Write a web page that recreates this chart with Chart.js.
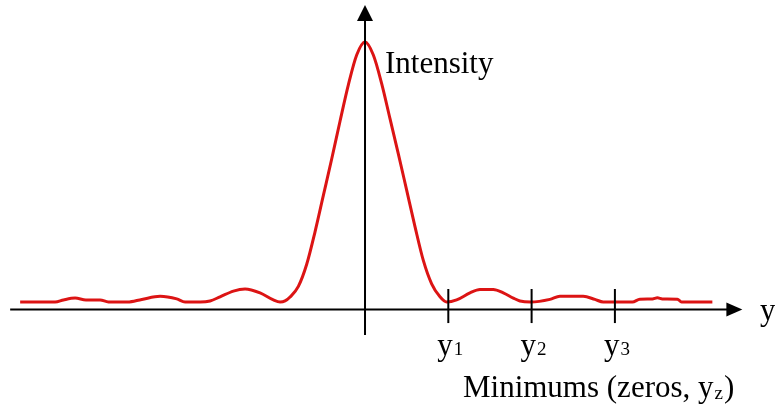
<!DOCTYPE html>
<html><head><meta charset="utf-8">
<script src="https://cdn.jsdelivr.net/npm/chart.js@4/dist/chart.umd.min.js"></script>
<style>html,body{margin:0;padding:0;background:#fff;overflow:hidden}#wrap{width:775px;height:404px}</style>
</head><body><div id="wrap"><canvas id="c" width="775" height="404"></canvas></div>
<script>
// Position along the screen, in units of the first-zero distance
const positions = [-4.14,-3.72,-3.62,-3.48,-3.35,-3.18,-3.08,-2.85,-2.68,-2.46,-2.26,-2.16,-1.98,-1.86,-1.74,-1.58,-1.44,-1.26,-1.10,-1.02,-0.96,-0.90,-0.80,-0.70,-0.60,-0.50,-0.40,-0.30,-0.20,-0.10,0.00,0.10,0.20,0.30,0.40,0.50,0.60,0.70,0.80,0.90,0.98,1.10,1.26,1.38,1.54,1.66,1.78,1.86,1.99,2.22,2.34,2.62,2.76,2.86,3.21,3.30,3.45,3.51,3.57,3.75,3.80,4.17];
// Relative intensity (peak = 1)
const intensity = [0.000,0.000,0.008,0.015,0.008,0.008,0.000,0.000,0.010,0.022,0.012,0.000,0.000,0.004,0.020,0.042,0.050,0.035,0.008,0.000,0.004,0.019,0.060,0.145,0.270,0.410,0.550,0.695,0.835,0.950,1.000,0.950,0.840,0.705,0.570,0.430,0.290,0.160,0.070,0.020,0.000,0.008,0.035,0.048,0.048,0.035,0.015,0.004,0.000,0.010,0.022,0.022,0.010,0.000,0.000,0.011,0.012,0.016,0.012,0.011,0.000,0.000];
// Marked minima (zeros) on the axis
const zeroPositions = [1, 2, 3];
const zeroLabels = ['1', '2', '3'];
const yLabel = 'Intensity';
const xLabel = 'y';
const minimaCaption = 'Minimums (zeros, y';
const minimaSub = 'z';

const FONT = '"Liberation Serif", "Times New Roman", serif';

const axesPlugin = {
  id: 'axesPlugin',
  afterDatasetsDraw(chart) {
    const ctx = chart.ctx;
    const xs = chart.scales.x, ys = chart.scales.y;
    const px = v => xs.getPixelForValue(v);
    const py = v => ys.getPixelForValue(v);
    ctx.save();
    ctx.strokeStyle = '#000';
    ctx.fillStyle = '#000';
    ctx.lineWidth = 2;
    // horizontal axis
    const ax = py(-0.029);
    const xStart = px(-4.26), xTip = px(4.53);
    ctx.beginPath(); ctx.moveTo(xStart, ax); ctx.lineTo(xTip - 14, ax); ctx.stroke();
    ctx.beginPath(); ctx.moveTo(xTip, ax); ctx.lineTo(xTip - 16, ax - 7); ctx.lineTo(xTip - 16, ax + 7); ctx.closePath(); ctx.fill();
    // vertical axis
    const ay = px(0);
    const yBot = py(-0.127), yTip = py(1.142);
    ctx.beginPath(); ctx.moveTo(ay, yBot); ctx.lineTo(ay, yTip + 14); ctx.stroke();
    ctx.beginPath(); ctx.moveTo(ay, yTip); ctx.lineTo(ay - 8, yTip + 16); ctx.lineTo(ay + 8, yTip + 16); ctx.closePath(); ctx.fill();
    // tick marks at minima
    zeroPositions.forEach(z => {
      ctx.beginPath(); ctx.moveTo(px(z), py(0.05)); ctx.lineTo(px(z), py(-0.081)); ctx.stroke();
    });
    // texts
    ctx.textBaseline = 'alphabetic';
    ctx.textAlign = 'left';
    ctx.font = '31px ' + FONT;
    ctx.fillText(yLabel, px(0.24), py(0.881));
    ctx.fillText(xLabel, px(4.742), py(-0.069));
    zeroPositions.forEach((z, i) => {
      const x0 = px(z) - 11, b = py(-0.204);
      ctx.font = '31px ' + FONT;
      ctx.fillText('y', x0, b);
      const w = ctx.measureText('y').width;
      ctx.font = '19px ' + FONT;
      ctx.fillText(zeroLabels[i], x0 + w + 1, b);
    });
    const cx = px(1.176), cb = py(-0.365);
    ctx.font = '31px ' + FONT;
    ctx.fillText(minimaCaption, cx, cb);
    let w1 = ctx.measureText(minimaCaption).width;
    ctx.font = '19px ' + FONT;
    ctx.fillText(minimaSub, cx + w1 + 1, cb + 2);
    const w2 = ctx.measureText(minimaSub).width;
    ctx.font = '31px ' + FONT;
    ctx.fillText(')', cx + w1 + w2 + 2, cb);
    ctx.restore();
  }
};

new Chart(document.getElementById('c'), {
  type: 'line',
  data: {
    datasets: [{
      data: positions.map((p, i) => ({ x: p, y: intensity[i] })),
      borderColor: '#dc1414',
      borderWidth: 3,
      pointRadius: 0,
      fill: false,
      cubicInterpolationMode: 'monotone'
    }]
  },
  options: {
    responsive: false,
    animation: false,
    layout: { padding: 0 },
    plugins: { legend: { display: false }, tooltip: { enabled: false } },
    scales: {
      x: { type: 'linear', min: -4.382, max: 4.922, display: false },
      y: { type: 'linear', min: -0.3923, max: 1.1615, display: false }
    }
  },
  plugins: [axesPlugin]
});
</script>
</body></html>
